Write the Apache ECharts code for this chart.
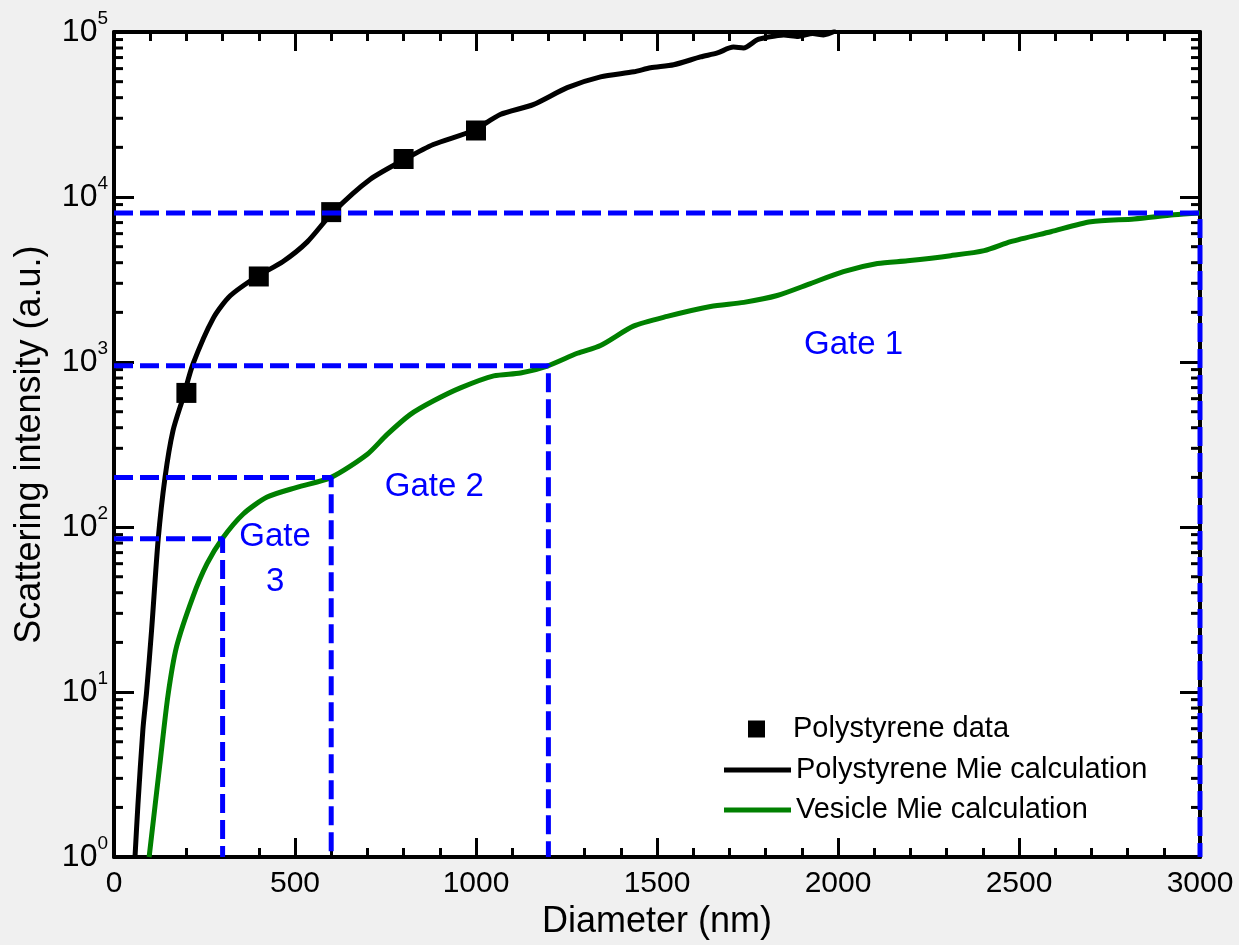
<!DOCTYPE html>
<html>
<head>
<meta charset="utf-8">
<script src="https://cdn.jsdelivr.net/npm/echarts@6/dist/echarts.min.js"></script>
<style>
html,body{margin:0;padding:0;background:#f0f0f0;}
#chart{width:1239px;height:945px;}
</style>
</head>
<body>
<div id="chart"></div>
<script>
// Polystyrene data (markers)
const psDataX = [200, 400, 600, 800, 1000];
const psDataY = [650, 3300, 8100, 17000, 25300];

// Polystyrene Mie calculation
const psMieX = [58, 66, 80, 90, 104, 122, 141, 163, 191, 218, 274, 321, 395, 467, 534, 603, 708, 805, 882, 993, 1067, 1158, 1252, 1344, 1436, 1482, 1546, 1620, 1667, 1711, 1739, 1777, 1805, 1850, 1890, 1930, 1960, 1995];
const psMieY = [1, 2.06, 6.0, 10, 24, 84, 200, 384, 610, 970, 1840, 2520, 3300, 4070, 5350, 8000, 12800, 17000, 20800, 25300, 31600, 36300, 46000, 53500, 57400, 60700, 63300, 70600, 74700, 81000, 80100, 89800, 93000, 96000, 94000, 98000, 96000, 102000];

// Vesicle Mie calculation
const vesX = [97, 127, 149, 173, 218, 257, 299, 357, 423, 505, 600, 699, 754, 818, 883, 957, 1049, 1123, 1197, 1280, 1344, 1435, 1528, 1648, 1740, 1832, 1924, 2015, 2109, 2192, 2311, 2404, 2477, 2588, 2698, 2818, 2928, 3000];
const vesY = [1, 3.7, 9.5, 18.9, 37.8, 60, 85, 120, 152, 174, 200, 275, 363, 480, 582, 697, 824, 859, 946, 1130, 1260, 1650, 1890, 2170, 2300, 2530, 2990, 3530, 3950, 4110, 4410, 4730, 5360, 6160, 7080, 7370, 7800, 8000];

// Gate boundaries
const gateX = [300, 600, 1200, 3000];
const gateY = [85, 200, 950, 8000];

// Gate labels
const gateLabelText = ['Gate 1', 'Gate 2', 'Gate\n3'];
const gateLabelX = [2043, 885, 445];
const gateLabelY = [1265, 175, 64];

// Axis ranges and ticks
const xMin = 0, xMax = 3000, xInterval = 500;
const yMin = 1, yMax = 100000;
const yMinorMultipliers = [2, 3, 4, 5, 6, 7, 8, 9];
const yDecades = [1, 10, 100, 1000, 10000];

const zip = (a, b) => a.map((v, i) => [v, b[i]]);

const minorTickData = [];
yDecades.forEach(d => yMinorMultipliers.forEach(m => minorTickData.push([xMin, d * m])));

const FONT = 'Liberation Sans, Arial, sans-serif';
const BLUE = '#0000ff';
const GREEN = '#008000';

const gateSeries = gateX.map((gx, i) => ({
  type: 'line',
  name: 'gate' + i,
  data: [[xMin, gateY[i]], [gx, gateY[i]], [gx, yMin]],
  symbol: 'none',
  lineStyle: { color: BLUE, width: 5, type: [19, 7] },
  z: 5,
  silent: true,
  animation: false
}));

const option = {
  animation: false,
  backgroundColor: '#f0f0f0',
  grid: { left: 114, right: 39, top: 32, bottom: 83, show: true, backgroundColor: '#ffffff', borderWidth: 0 },
  legend: [
    {
      orient: 'vertical',
      left: 743,
      top: 709,
      itemWidth: 17,
      itemHeight: 17,
      icon: 'rect',
      itemStyle: { opacity: 1 },
      textStyle: { fontSize: 29, fontFamily: FONT, color: '#000', lineHeight: 30, padding: [0, 0, 0, 23] },
      data: ['Polystyrene data']
    },
    {
      orient: 'vertical',
      left: 719,
      top: 750,
      itemWidth: 67,
      itemHeight: 5,
      itemGap: 10,
      icon: 'rect',
      textStyle: { fontSize: 29, fontFamily: FONT, color: '#000', lineHeight: 30 },
      data: ['Polystyrene Mie calculation', 'Vesicle Mie calculation']
    }
  ],
  xAxis: [
    {
      type: 'value', min: xMin, max: xMax, interval: xInterval, position: 'bottom',
      name: 'Diameter (nm)', nameLocation: 'middle', nameGap: 36,
      nameTextStyle: { fontSize: 36, fontFamily: FONT, color: '#000' },
      axisLine: { show: true, onZero: false, lineStyle: { color: '#000', width: 4 } },
      axisTick: { show: true, inside: true, length: 19, lineStyle: { color: '#000', width: 3 } },
      minorTick: { show: true, splitNumber: 5, length: 9, lineStyle: { color: '#000', width: 3 } },
      axisLabel: { fontSize: 30, fontFamily: FONT, color: '#000', margin: 12, formatter: v => String(v) },
      splitLine: { show: false }
    },
    {
      type: 'value', min: xMin, max: xMax, interval: xInterval, position: 'top',
      axisLine: { show: true, onZero: false, lineStyle: { color: '#000', width: 4 } },
      axisTick: { show: true, inside: true, length: 19, lineStyle: { color: '#000', width: 3 } },
      minorTick: { show: true, splitNumber: 5, length: 9, lineStyle: { color: '#000', width: 3 } },
      axisLabel: { show: false },
      splitLine: { show: false }
    }
  ],
  yAxis: [
    {
      type: 'log', logBase: 10, min: yMin, max: yMax, position: 'left',
      name: 'Scattering intensity (a.u.)', nameLocation: 'middle', nameGap: 66,
      nameTextStyle: { fontSize: 36, fontFamily: FONT, color: '#000' },
      axisLine: { show: true, onZero: false, lineStyle: { color: '#000', width: 4 } },
      axisTick: { show: true, inside: true, length: 20, lineStyle: { color: '#000', width: 3 } },
      axisLabel: {
        margin: 6,
        formatter: v => '{b|10}{s|' + Math.round(Math.log10(v)) + '}',
        rich: {
          b: { fontSize: 32, fontFamily: FONT, color: '#000', lineHeight: 32, verticalAlign: 'middle' },
          s: { fontSize: 19, fontFamily: FONT, color: '#000', lineHeight: 20, padding: [0, 0, 27, 0], verticalAlign: 'middle' }
        }
      },
      splitLine: { show: false }
    },
    {
      type: 'log', logBase: 10, min: yMin, max: yMax, position: 'right',
      axisLine: { show: true, onZero: false, lineStyle: { color: '#000', width: 4 } },
      axisTick: { show: true, inside: true, length: 20, lineStyle: { color: '#000', width: 3 } },
      axisLabel: { show: false },
      splitLine: { show: false }
    }
  ],
  series: [
    {
      type: 'custom',
      name: 'yMinorTicks',
      silent: true,
      clip: false,
      data: minorTickData,
      encode: { x: 0, y: 1 },
      renderItem: (params, api) => {
        const v = api.value(1);
        const pL = api.coord([xMin, v]);
        const pR = api.coord([xMax, v]);
        return {
          type: 'group',
          children: [
            { type: 'line', shape: { x1: pL[0], y1: pL[1], x2: pL[0] + 9, y2: pL[1] }, style: { stroke: '#000', lineWidth: 3 } },
            { type: 'line', shape: { x1: pR[0], y1: pR[1], x2: pR[0] - 9, y2: pR[1] }, style: { stroke: '#000', lineWidth: 3 } }
          ]
        };
      },
      z: 1
    },
    {
      type: 'line',
      name: 'Polystyrene Mie calculation',
      data: zip(psMieX, psMieY),
      symbol: 'none',
      smooth: 0.25,
      lineStyle: { color: '#000', width: 5 },
      itemStyle: { color: '#000' },
      clip: true,
      z: 3
    },
    {
      type: 'line',
      name: 'Vesicle Mie calculation',
      data: zip(vesX, vesY),
      symbol: 'none',
      smooth: 0.25,
      lineStyle: { color: GREEN, width: 5 },
      itemStyle: { color: GREEN },
      clip: true,
      z: 3
    },
    {
      type: 'scatter',
      name: 'Polystyrene data',
      data: zip(psDataX, psDataY),
      symbol: 'rect',
      symbolSize: 20,
      itemStyle: { color: '#000', opacity: 1 },
      z: 4
    },
    ...gateSeries,
    {
      type: 'scatter',
      name: 'gateLabels',
      silent: true,
      symbolSize: 0,
      itemStyle: { opacity: 1 },
      data: gateLabelX.map((x, i) => ({ value: [x, gateLabelY[i]], name: gateLabelText[i] })),
      label: {
        show: true, position: 'inside', formatter: p => p.name,
        fontSize: 33, fontFamily: FONT, color: BLUE, lineHeight: 45, align: 'center', verticalAlign: 'middle'
      },
      z: 6
    }
  ]
};

const chart = echarts.init(document.getElementById('chart'), null, { renderer: 'canvas' });
chart.setOption(option);
</script>
</body>
</html>
